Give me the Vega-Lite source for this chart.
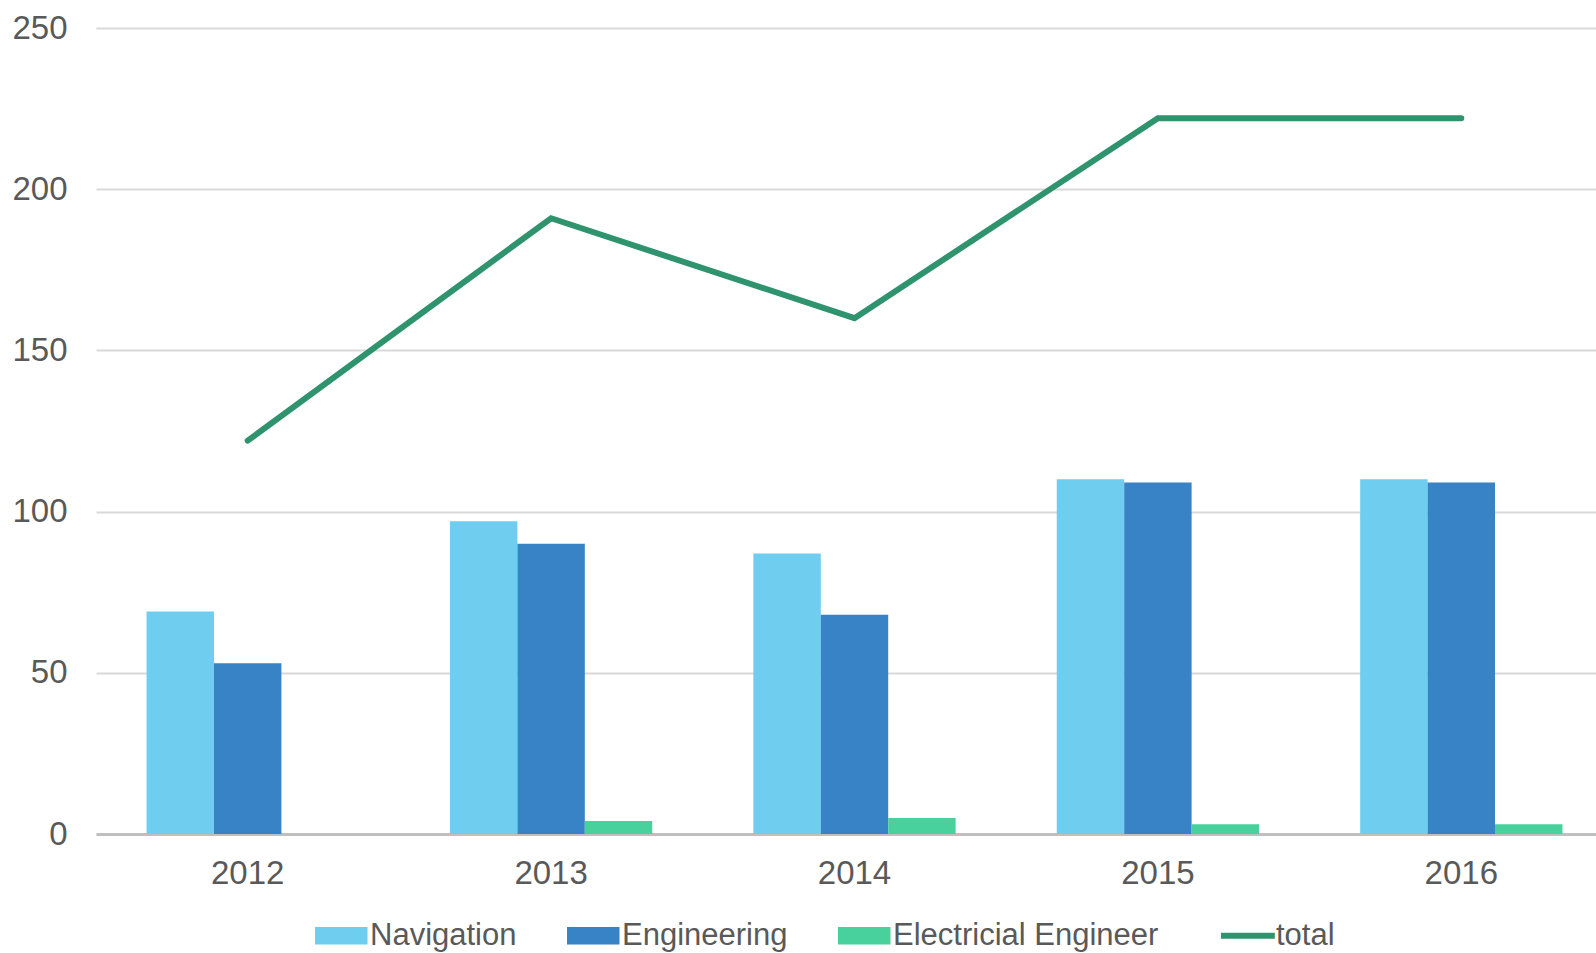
{
  "$schema": "https://vega.github.io/schema/vega-lite/v6.json",
  "width": 1500,
  "height": 806,
  "autosize": "none",
  "padding": {"left": 96, "top": 28, "right": 0, "bottom": 119},
  "background": "white",
  "config": {"view": {"stroke": null}},
  "datasets": {
    "bars": [
      {"year": "2012", "series": "Navigation", "value": 69},
      {"year": "2012", "series": "Engineering", "value": 53},
      {"year": "2012", "series": "Electricial Engineer", "value": 0},
      {"year": "2013", "series": "Navigation", "value": 97},
      {"year": "2013", "series": "Engineering", "value": 90},
      {"year": "2013", "series": "Electricial Engineer", "value": 4},
      {"year": "2014", "series": "Navigation", "value": 87},
      {"year": "2014", "series": "Engineering", "value": 68},
      {"year": "2014", "series": "Electricial Engineer", "value": 5},
      {"year": "2015", "series": "Navigation", "value": 110},
      {"year": "2015", "series": "Engineering", "value": 109},
      {"year": "2015", "series": "Electricial Engineer", "value": 3},
      {"year": "2016", "series": "Navigation", "value": 110},
      {"year": "2016", "series": "Engineering", "value": 109},
      {"year": "2016", "series": "Electricial Engineer", "value": 3}
    ],
    "totals": [
      {"year": "2012", "series": "total", "total": 122},
      {"year": "2013", "series": "total", "total": 191},
      {"year": "2014", "series": "total", "total": 160},
      {"year": "2015", "series": "total", "total": 222},
      {"year": "2016", "series": "total", "total": 222}
    ]
  },
  "layer": [
    {
      "data": {"name": "bars"},
      "mark": {"type": "bar"},
      "encoding": {
        "x": {
          "field": "year",
          "type": "nominal",
          "scale": {"range": [0, 1517], "paddingInner": 0.3333, "paddingOuter": 0.1667},
          "axis": {
            "title": null,
            "labelAngle": 0,
            "ticks": false,
            "grid": false,
            "domainColor": "#bfbfbf",
            "domainWidth": 3,
            "labelFont": "Liberation Sans",
            "labelFontSize": 33,
            "labelColor": "#595959",
            "labelPadding": 23
          }
        },
        "xOffset": {
          "field": "series",
          "type": "nominal",
          "sort": ["Navigation", "Engineering", "Electricial Engineer"],
          "scale": {"paddingInner": 0, "paddingOuter": 0}
        },
        "y": {
          "field": "value",
          "type": "quantitative",
          "scale": {"domain": [0, 250], "nice": false},
          "axis": {
            "title": null,
            "values": [0, 50, 100, 150, 200, 250],
            "domain": false,
            "ticks": false,
            "labelPadding": 29,
            "labelFont": "Liberation Sans",
            "labelFontSize": 33,
            "labelColor": "#595959",
            "gridColor": "#d9d9d9",
            "gridWidth": 2
          }
        },
        "color": {
          "field": "series",
          "type": "nominal",
          "scale": {
            "domain": ["Navigation", "Engineering", "Electricial Engineer", "total"],
            "range": ["#6fcdf0", "#3883c6", "#48d19d", "#2f936e"]
          },
          "legend": {
            "orient": "none",
            "legendX": 235,
            "legendY": 892,
            "direction": "horizontal",
            "columns": 4,
            "title": null,
            "labelFont": "Liberation Sans",
            "labelFontSize": 31,
            "labelColor": "#595959",
            "labelLimit": 500,
            "labelOffset": 8,
            "columnPadding": 50,
            "symbolSize": 2756,
            "symbolType": "M-1.2,-0.333H0.8V0.333H-1.2Z",
            "symbolStrokeWidth": 0,
            "encode": {
              "symbols": {
                "update": {
                  "shape": {"signal": "datum.value === 'total' ? 'M-1.2,0H0.85' : 'M-1.2,-0.333H0.8V0.333H-1.2Z'"},
                  "strokeWidth": {"signal": "datum.value === 'total' ? 6 : 0"},
                  "strokeCap": {"value": "butt"},
                  "fill": {"signal": "datum.value === 'total' ? 'transparent' : scale('color', datum.value)"},
                  "stroke": {"scale": "color", "field": "value"},
                  "opacity": {"value": 1},
                  "fillOpacity": {"value": 1},
                  "strokeOpacity": {"value": 1}
                }
              }
            }
          }
        }
      }
    },
    {
      "data": {"name": "totals"},
      "mark": {"type": "line", "strokeWidth": 6, "strokeCap": "round"},
      "encoding": {
        "x": {"field": "year", "type": "nominal"},
        "y": {"field": "total", "type": "quantitative"},
        "color": {"field": "series", "type": "nominal"}
      }
    }
  ]
}
